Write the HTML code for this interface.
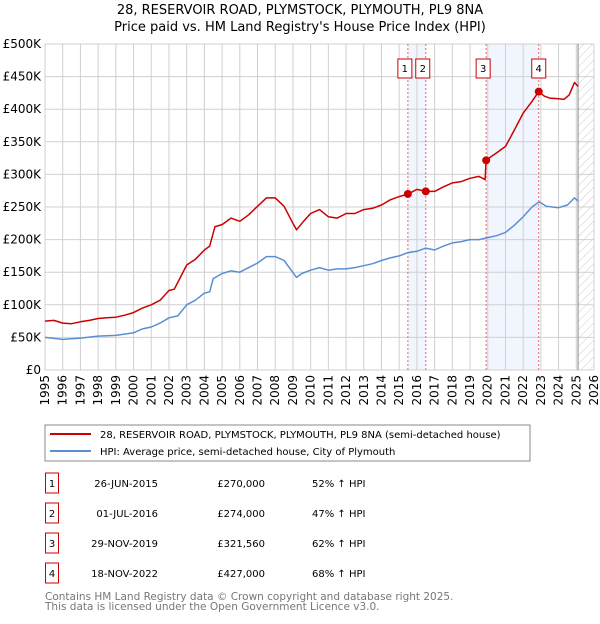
<!DOCTYPE html>
<html><head><meta charset="utf-8"><style>
body{margin:0;background:#fff;font-family:"DejaVu Sans","Liberation Sans",sans-serif;}
svg text{font-family:"DejaVu Sans","Liberation Sans",sans-serif;}
</style></head><body>
<svg id="c" width="600" height="620" xmlns="http://www.w3.org/2000/svg">
<defs><pattern id="hatch" width="6" height="6" patternUnits="userSpaceOnUse" patternTransform="rotate(45)"><line x1="0" y1="0" x2="0" y2="6" stroke="#ccc" stroke-width="1"/></pattern></defs>
<text x="300" y="14" text-anchor="middle" font-size="13">28, RESERVOIR ROAD, PLYMSTOCK, PLYMOUTH, PL9 8NA</text>
<text x="300" y="31" text-anchor="middle" font-size="13">Price paid vs. HM Land Registry's House Price Index (HPI)</text>
<g id="plot"></g>
<rect x="45" y="425" width="485" height="36" fill="#fff" stroke="#888"/>
<line x1="50" y1="434" x2="91" y2="434" stroke="#cc0000" stroke-width="2"/>
<text x="100" y="438" font-size="10">28, RESERVOIR ROAD, PLYMSTOCK, PLYMOUTH, PL9 8NA (semi-detached house)</text>
<line x1="50" y1="451" x2="91" y2="451" stroke="#5b8fd4" stroke-width="2"/>
<text x="100" y="455" font-size="10">HPI: Average price, semi-detached house, City of Plymouth</text>
<g id="tbl" font-size="10"></g>
<text x="45" y="600" font-size="10.5" fill="#777">Contains HM Land Registry data © Crown copyright and database right 2025.</text>
<text x="45" y="610" font-size="10.5" fill="#777">This data is licensed under the Open Government Licence v3.0.</text>
</svg>
<script>
const priceYears=[1995,1995.5,1996,1996.5,1997,1997.5,1998,1998.5,1999,1999.5,2000,2000.5,2001,2001.5,2002,2002.3,2003,2003.5,2004,2004.3,2004.6,2005,2005.5,2006,2006.5,2007,2007.5,2008,2008.5,2009,2009.2,2009.6,2010,2010.5,2011,2011.5,2012,2012.5,2013,2013.5,2014,2014.5,2015,2015.49,2016,2016.5,2017,2017.5,2018,2018.5,2019,2019.5,2019.85,2019.91,2020.5,2021,2021.5,2022,2022.5,2022.88,2023.2,2023.5,2024,2024.3,2024.6,2024.9,2025.1];
const priceVals=[75,76,72,71,74,76,79,80,81,84,88,95,100,107,122,124,161,170,184,190,220,223,233,228,238,251,264,264,251,225,215,228,240,246,235,233,240,240,246,248,253,261,266,270,277,274,274,281,287,289,294,297,292,322,333,343,368,394,412,427,420,417,416,415,422,441,435];
const hpiYears=[1995,1996,1997,1998,1999,2000,2000.5,2001,2001.5,2002,2002.5,2003,2003.5,2004,2004.3,2004.5,2005,2005.5,2006,2006.5,2007,2007.5,2008,2008.5,2009.2,2009.5,2010,2010.5,2011,2011.5,2012,2012.5,2013,2013.5,2014,2014.5,2015,2015.5,2016,2016.5,2017,2017.5,2018,2018.5,2019,2019.5,2020,2020.5,2021,2021.5,2022,2022.5,2022.9,2023.3,2024,2024.5,2024.9,2025.1];
const hpiVals=[50,47,49,52,53,57,63,66,72,80,83,100,107,118,120,140,148,152,150,157,164,174,174,168,142,148,153,157,153,155,155,157,160,163,168,172,175,180,182,187,184,190,195,197,200,200,203,206,211,222,235,250,258,251,249,253,264,259];
const saleYears=[2015.49,2016.5,2019.91,2022.88];
const saleVals=[270,274,321.56,427];
const saleLabels=["1","2","3","4"];
const saleDates=["26-JUN-2015","01-JUL-2016","29-NOV-2019","18-NOV-2022"];
const salePrices=["£270,000","£274,000","£321,560","£427,000"];
const saleHpi=["52% ↑ HPI","47% ↑ HPI","62% ↑ HPI","68% ↑ HPI"];
const yTicks=[0,50,100,150,200,250,300,350,400,450,500];
const yTickLabels=["£0","£50K","£100K","£150K","£200K","£250K","£300K","£350K","£400K","£450K","£500K"];
const xTicks=[];for(let y=1995;y<=2026;y++)xTicks.push(y);

const X0=45,X1=594,Y0=370,Y1=44;
const xs=v=>X0+(v-1995)/(2026-1995)*(X1-X0);
const ys=v=>Y0-v/500*(Y0-Y1);
const NS="http://www.w3.org/2000/svg";
const plot=document.getElementById('plot');
function mk(tag,attrs,parent){const e=document.createElementNS(NS,tag);for(const k in attrs)e.setAttribute(k,attrs[k]);(parent||plot).appendChild(e);return e;}

let b=mk('rect',{x:xs(saleYears[0]),y:Y1,width:xs(saleYears[1])-xs(saleYears[0]),height:Y0-Y1,fill:'#f1f5fd'});


b=mk('rect',{x:xs(saleYears[2]),y:Y1,width:xs(saleYears[3])-xs(saleYears[2]),height:Y0-Y1,fill:'#f1f5fd'});


let h=mk('rect',{x:xs(2025.1),y:Y1,width:X1-xs(2025.1),height:Y0-Y1,fill:'url(#hatch)'});


yTicks.forEach((t,i)=>{
  const l=mk('line',{x1:X0,x2:X1,y1:ys(t),y2:ys(t),stroke:'#d0d0d0','stroke-width':1});
  
  
  const tx=mk('text',{x:X0-4,y:ys(t)+4,'text-anchor':'end','font-size':12});
  tx.textContent=yTickLabels[i];
  
  
});
xTicks.forEach(t=>{
  const l=mk('line',{x1:xs(t),x2:xs(t),y1:Y1,y2:Y0,stroke:'#d0d0d0','stroke-width':1});
  
  
  const tx=mk('text',{transform:`translate(${xs(t)+4},${Y0+5}) rotate(-90)`,'text-anchor':'end','font-size':12});
  tx.textContent=t;
  
  
});
let vl=mk('line',{x1:xs(2025.1),x2:xs(2025.1),y1:Y1,y2:Y0,stroke:'#888','stroke-width':1});


saleYears.forEach((s,i)=>{
  const l=mk('line',{x1:xs(s),x2:xs(s),y1:Y1,y2:Y0,stroke:'#e66','stroke-width':1,'stroke-dasharray':'2,2'});
  
  
  const bx=xs(s)-(i==3?0:3);
  const r=mk('rect',{x:bx-7,y:59,width:14,height:19,fill:'#fff',stroke:'#cc0000'});
  
  
  const t=mk('text',{x:bx,y:72,'text-anchor':'middle','font-size':10});
  t.textContent=saleLabels[i];
  
  
});
function path(xa,va,color,name){
  const d=xa.map((x,i)=>(i?'L':'M')+xs(x).toFixed(1)+','+ys(va[i]).toFixed(1)).join('');
  const p=mk('path',{d:d,fill:'none',stroke:color,'stroke-width':1.5,'stroke-linejoin':'round'});
  
  
}
path(hpiYears,hpiVals,'#5b8fd4','hpi-line');
path(priceYears,priceVals,'#cc0000','price-line');
saleYears.forEach((s,i)=>{
  const c=mk('circle',{cx:xs(s),cy:ys(saleVals[i]),r:4,fill:'#cc0000'});
  
  
});
const tbl=document.getElementById('tbl');
saleLabels.forEach((lab,i)=>{
  const yc=483+i*30;
  const r=mk('rect',{x:45.5,y:yc-10,width:13,height:20,fill:'#fff',stroke:'#cc0000'},tbl);
  
  
  const cols=[[52,lab,'middle'],[158,saleDates[i],'end'],[265,salePrices[i],'end'],[312,saleHpi[i],'start']];
  const names=['table-row-number','table-row-date','table-row-price','table-row-hpi'];
  cols.forEach((c,j)=>{
    const t=mk('text',{x:c[0],y:yc+4,'text-anchor':c[2],'font-size':10},tbl);
    t.textContent=c[1];
    
    
  });
});
</script>
</body></html>
